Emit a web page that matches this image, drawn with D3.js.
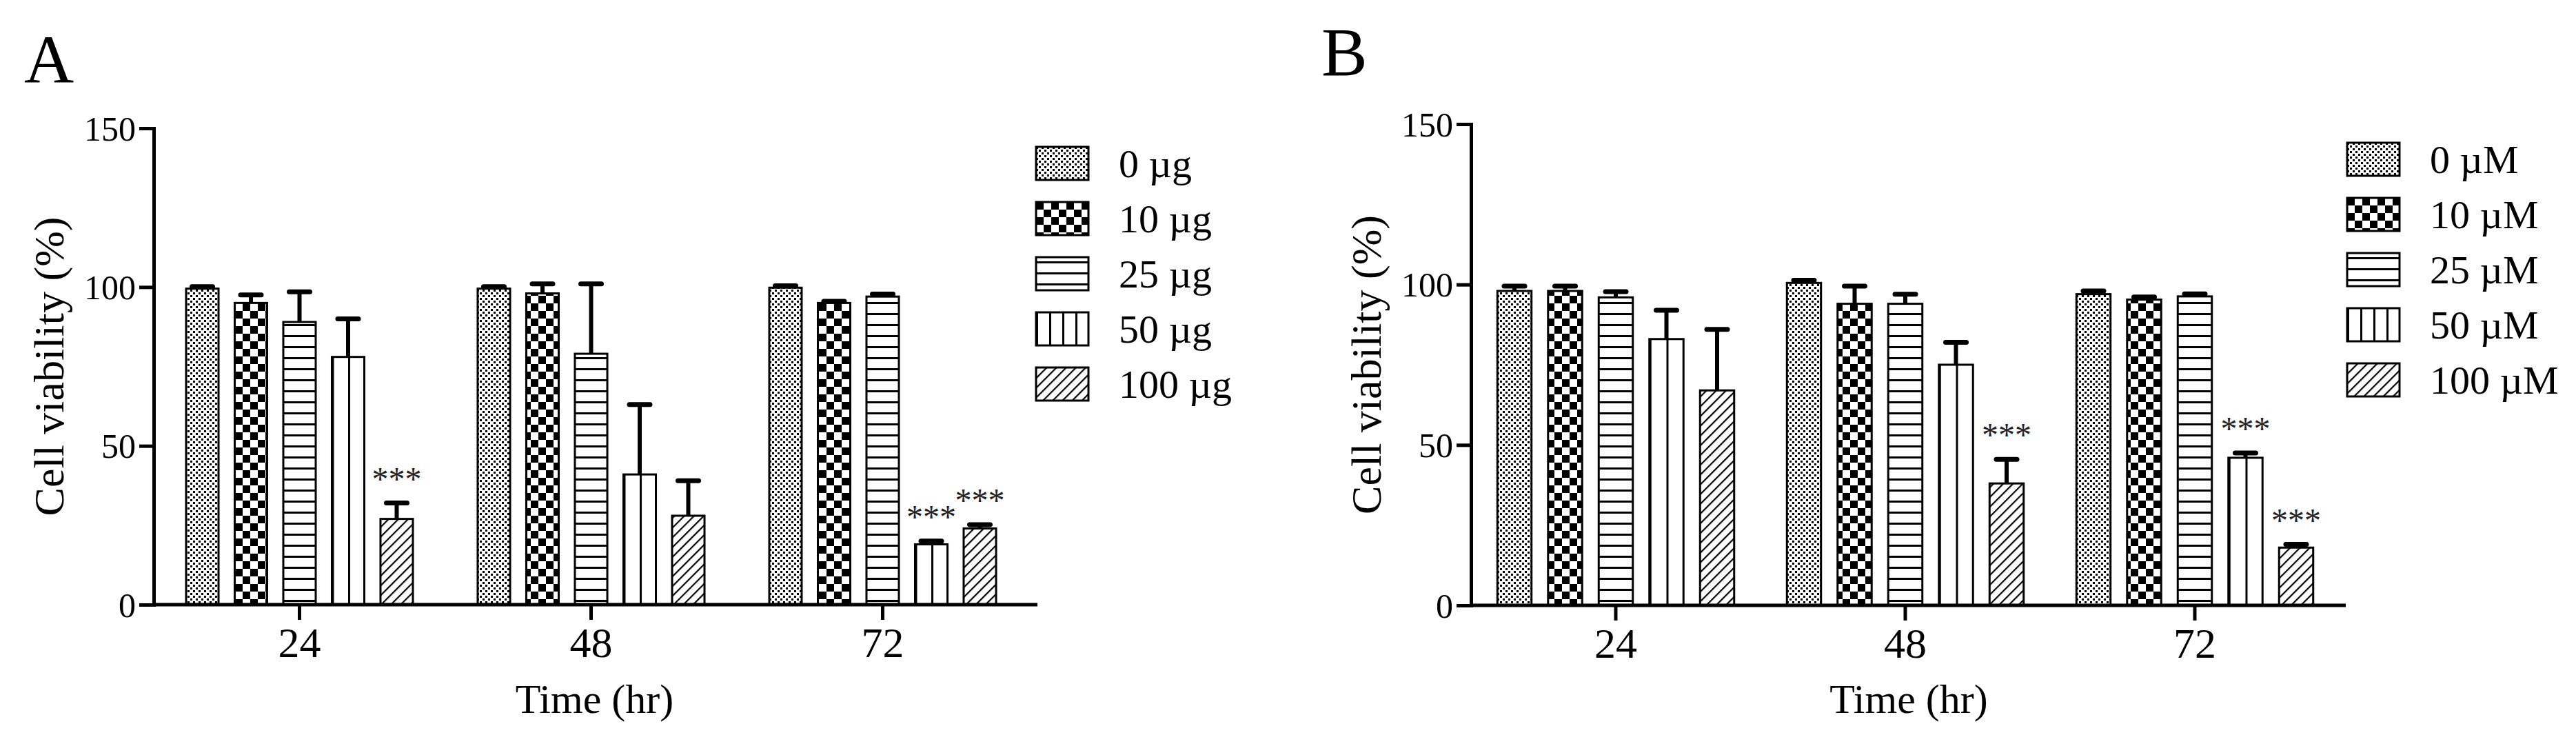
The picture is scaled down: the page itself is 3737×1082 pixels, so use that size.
<!DOCTYPE html>
<html>
<head>
<meta charset="utf-8">
<script src="https://cdn.jsdelivr.net/npm/d3@7"></script>
<style>
  body { margin: 0; background: #fff; }
  svg { display: block; }
  text { font-family: "Liberation Serif", "Times New Roman", serif; fill: #000; }
</style>
</head>
<body>
<div id="chart"></div>
<script>
// data
const times = ["24", "48", "72"];
const dosesA = ["0 \u00b5g", "10 \u00b5g", "25 \u00b5g", "50 \u00b5g", "100 \u00b5g"];
const dosesB = ["0 \u00b5M", "10 \u00b5M", "25 \u00b5M", "50 \u00b5M", "100 \u00b5M"];

// rows = time point, columns = dose
const meanA = [[99.5, 95, 89, 78, 27], [99.5, 98, 79, 41, 28], [99.8, 95, 97, 19, 24]];
const errA  = [[0.6, 2.5, 9.5, 12, 5], [0.6, 3, 22, 22, 11], [0.6, 0.5, 0.8, 1, 1.2]];
const sigA  = [[0, 0, 0, 0, 1], [0, 0, 0, 0, 0], [0, 0, 0, 1, 1]];

const meanB = [[98, 98, 96, 83, 67], [100.5, 94, 94, 75, 38], [97, 95.3, 96.3, 46, 18]];
const errB  = [[1.5, 1.5, 1.8, 9, 19], [0.8, 5.5, 3, 7, 7.5], [1, 0.8, 0.8, 1.5, 1]];
const sigB  = [[0, 0, 0, 0, 0], [0, 0, 0, 0, 1], [0, 0, 0, 1, 1]];

const yTicks = [0, 50, 100, 150];
const fills = ["dots", "checker", "hlines", "vlines", "hatch"];

const svg = d3.select("#chart").append("svg")
    .attr("width", 3737)
    .attr("height", 1082);

// fill patterns
const defs = svg.append("defs");

let p = defs.append("pattern").attr("id", "dots").attr("patternUnits", "userSpaceOnUse")
    .attr("width", 8).attr("height", 8);
p.append("rect").attr("width", 8).attr("height", 8).attr("fill", "#fff");
p.append("rect").attr("width", 3).attr("height", 3).attr("fill", "#000");
p.append("rect").attr("x", 4).attr("y", 4).attr("width", 3).attr("height", 3).attr("fill", "#000");

p = defs.append("pattern").attr("id", "checker").attr("patternUnits", "userSpaceOnUse")
    .attr("width", 22).attr("height", 22);
p.append("rect").attr("width", 22).attr("height", 22).attr("fill", "#fff");
p.append("rect").attr("width", 11).attr("height", 11).attr("fill", "#000");
p.append("rect").attr("x", 11).attr("y", 11).attr("width", 11).attr("height", 11).attr("fill", "#000");

p = defs.append("pattern").attr("id", "hlines").attr("patternUnits", "userSpaceOnUse")
    .attr("width", 16).attr("height", 16);
p.append("rect").attr("width", 16).attr("height", 16).attr("fill", "#fff");
p.append("rect").attr("y", 6).attr("width", 16).attr("height", 3).attr("fill", "#000");

// vertical lines: one at the middle of a bar, three inside a legend box
[["vlines", 0.5], ["vlinesLeg", 0.25]].forEach(([id, w]) => {
  const v = defs.append("pattern").attr("id", id)
      .attr("patternUnits", "objectBoundingBox")
      .attr("patternContentUnits", "userSpaceOnUse")
      .attr("width", w).attr("height", 1);
  v.append("rect").attr("width", 2000).attr("height", 2000).attr("fill", "#fff");
  v.append("rect").attr("width", 3).attr("height", 2000).attr("fill", "#000");
});

p = defs.append("pattern").attr("id", "hatch").attr("patternUnits", "userSpaceOnUse")
    .attr("width", 10).attr("height", 10).attr("patternTransform", "rotate(45)");
p.append("rect").attr("width", 10).attr("height", 10).attr("fill", "#fff");
p.append("rect").attr("width", 2.2).attr("height", 10).attr("fill", "#000");

function drawPanel(cfg) {
  const g = svg.append("g");

  const y = d3.scaleLinear().domain([0, 150]).range([cfg.y0, cfg.y150]);
  const x = d3.scaleBand().domain(times).range([cfg.axisX, cfg.axisX + 3 * cfg.step]);
  const inner = d3.scaleBand().domain(d3.range(5))
      .range([-cfg.span / 2, cfg.span / 2])
      .paddingInner(cfg.pad).paddingOuter(cfg.pad / 2);

  const rows = [];
  times.forEach((t, i) => cfg.mean[i].forEach((m, j) =>
    rows.push({t: t, j: j, m: m, e: cfg.err[i][j], s: cfg.sig[i][j]})));
  const cx = d => x(d.t) + x.bandwidth() / 2 + inner(d.j) + inner.bandwidth() / 2;

  // bars
  g.selectAll(".bar")
    .data(rows)
    .join("rect")
      .attr("class", "bar")
      .attr("x", d => cx(d) - inner.bandwidth() / 2)
      .attr("y", d => y(d.m))
      .attr("width", inner.bandwidth())
      .attr("height", d => y(0) - y(d.m))
      .attr("fill", d => `url(#${fills[d.j]})`)
      .attr("stroke", "#000")
      .attr("stroke-width", 3);

  // error bars (upper only)
  g.selectAll(".ebar")
    .data(rows)
    .join("line")
      .attr("class", "ebar")
      .attr("x1", cx).attr("x2", cx)
      .attr("y1", d => y(d.m))
      .attr("y2", d => y(d.m + d.e))
      .attr("stroke", "#000")
      .attr("stroke-width", 6);
  g.selectAll(".ecap")
    .data(rows)
    .join("line")
      .attr("class", "ecap")
      .attr("x1", d => cx(d) - 15).attr("x2", d => cx(d) + 15)
      .attr("y1", d => y(d.m + d.e))
      .attr("y2", d => y(d.m + d.e))
      .attr("stroke", "#000")
      .attr("stroke-width", 7)
      .attr("stroke-linecap", "round");

  // significance marks
  g.selectAll(".star")
    .data(rows.filter(d => d.s))
    .join("text")
      .attr("class", "star")
      .attr("x", cx)
      .attr("y", d => y(d.m + d.e) - 19)
      .attr("text-anchor", "middle")
      .attr("font-size", 48)
      .style("fill", "#222")
      .text("***");

  // y axis
  const yAxis = g.append("g")
      .attr("transform", `translate(${cfg.axisX},0)`)
      .call(d3.axisLeft(y).tickValues(yTicks).tickSize(21).tickSizeOuter(0).tickPadding(5));
  yAxis.select(".domain").attr("stroke-width", 5).attr("stroke-linecap", "square");
  yAxis.selectAll(".tick line").attr("stroke-width", 5);
  yAxis.selectAll(".tick text")
      .attr("font-size", 50)
      .attr("font-family", "Liberation Serif")
      .attr("dy", "0.34em");

  // x axis
  const xAxis = g.append("g")
      .attr("transform", `translate(0,${cfg.y0})`)
      .call(d3.axisBottom(x).tickSize(22).tickSizeOuter(0).tickPadding(10));
  xAxis.select(".domain").remove();
  xAxis.append("line")
      .attr("x1", cfg.axisX).attr("x2", cfg.axisEnd)
      .attr("stroke", "#000").attr("stroke-width", 5);
  xAxis.selectAll(".tick line").attr("stroke-width", 5);
  xAxis.selectAll(".tick text")
      .attr("font-size", 62)
      .attr("font-family", "Liberation Serif");

  // axis titles
  g.append("text")
      .attr("transform", `translate(${cfg.axisX - 131},${(cfg.y0 + cfg.y150) / 2}) rotate(-90)`)
      .attr("text-anchor", "middle")
      .attr("font-size", 62)
      .text("Cell viability (%)");
  g.append("text")
      .attr("x", cfg.axisX + 1.5 * cfg.step + 5)
      .attr("y", 1034)
      .attr("text-anchor", "middle")
      .attr("font-size", 60)
      .text("Time (hr)");

  // panel letter
  g.append("text")
      .attr("x", cfg.letterX).attr("y", cfg.letterY)
      .attr("font-size", 100)
      .text(cfg.letter);

  // legend
  const leg = g.append("g")
      .selectAll("g")
      .data(cfg.doses)
      .join("g")
        .attr("transform", (d, i) => `translate(${cfg.legX},${cfg.legY + i * 80})`);
  leg.append("rect")
      .attr("width", 76).attr("height", 48)
      .attr("fill", (d, i) => i === 3 ? "url(#vlinesLeg)" : `url(#${fills[i]})`)
      .attr("stroke", "#000")
      .attr("stroke-width", 3);
  leg.append("text")
      .attr("x", 120).attr("y", 24)
      .attr("dy", "0.34em")
      .attr("font-size", 58)
      .text(d => d);
}

drawPanel({
  letter: "A", letterX: 35, letterY: 120,
  axisX: 223, axisEnd: 1505, step: 423, span: 352.5, pad: 0.333,
  y0: 877, y150: 186,
  mean: meanA, err: errA, sig: sigA, doses: dosesA,
  legX: 1503, legY: 213
});

drawPanel({
  letter: "B", letterX: 1917, letterY: 109,
  axisX: 2134, axisEnd: 3403, step: 420, span: 367.5, pad: 0.327,
  y0: 878, y150: 180,
  mean: meanB, err: errB, sig: sigB, doses: dosesB,
  legX: 3405, legY: 207
});
</script>
</body>
</html>
